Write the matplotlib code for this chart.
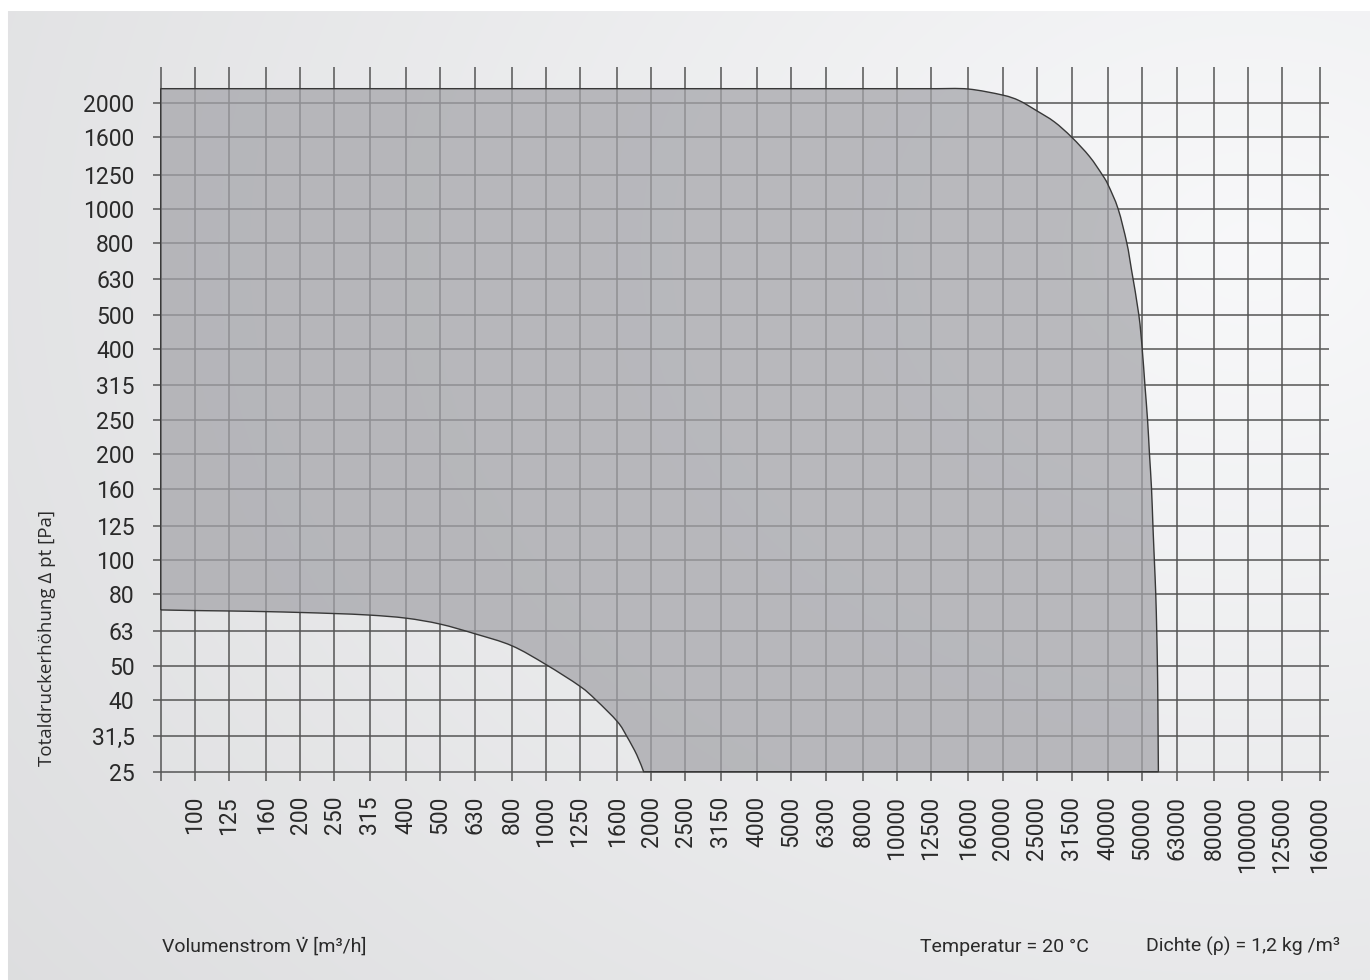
import numpy as np
import matplotlib
matplotlib.use("Agg")
import matplotlib.pyplot as plt
from matplotlib.path import Path
from matplotlib.patches import PathPatch
from matplotlib.ticker import NullLocator

# R10 grid values for flow rate [m3/h] and total pressure [Pa]
flow_grid = [80, 100, 125, 160, 200, 250, 315, 400, 500, 630, 800, 1000, 1250,
             1600, 2000, 2500, 3150, 4000, 5000, 6300, 8000, 10000, 12500, 16000,
             20000, 25000, 31500, 40000, 50000, 63000, 80000, 100000, 125000, 160000]
flow_labels = [""] + [str(v) for v in flow_grid[1:]]
pressure_grid = [25, 31.5, 40, 50, 63, 80, 100, 125, 160, 200, 250, 315, 400,
                 500, 630, 800, 1000, 1250, 1600, 2000]
pressure_labels = [str(v).replace(".", ",") for v in pressure_grid]

# operating range, upper-right limit (top of the flank down to the 25 Pa line)
upper_flow = [13000, 16000, 20000, 22300, 25000, 28100, 31500, 35400, 38500,
              40000, 42700, 45200, 46600, 48900, 50000, 50900, 51800, 52450,
              53150, 53650, 54150, 54650, 55000, 55250, 55400, 55500, 55600]
upper_dp = [2200, 2195, 2110, 2035, 1905, 1770, 1600, 1410, 1250,
            1170, 1000, 800, 672, 500, 400, 315, 250, 200,
            160, 125, 100, 80, 63, 50, 40, 31.5, 25]
# lower-left limit (from the 25 Pa line back to the left edge)
lower_flow = [1900, 1817, 1702, 1600, 1390, 1250, 1000, 800, 630, 500, 400, 315,
              250, 200, 160, 125, 100, 80]
lower_dp = [25, 27.9, 31.5, 34.7, 40, 43.8, 50.5, 57.1, 61.7, 65.8, 68.4, 69.8,
            70.5, 71.0, 71.4, 71.7, 71.9, 72.2]
top_dp = 2200
left_flow = 80


def smooth_segments(xs, ys):
    """Catmull-Rom curve through the points, as cubic Bezier pieces in log space."""
    lx, ly = np.log10(xs), np.log10(ys)
    n = len(lx)
    verts, codes = [], []
    for i in range(n - 1):
        i0, i3 = max(i - 1, 0), min(i + 2, n - 1)
        c1 = (lx[i] + (lx[i + 1] - lx[i0]) / 6, ly[i] + (ly[i + 1] - ly[i0]) / 6)
        c2 = (lx[i + 1] - (lx[i3] - lx[i]) / 6, ly[i + 1] - (ly[i3] - ly[i]) / 6)
        for px, py in (c1, c2, (lx[i + 1], ly[i + 1])):
            verts.append((10 ** px, 10 ** py))
        codes += [Path.CURVE4] * 3
    return verts, codes


W, H = 1372, 980
fig = plt.figure(figsize=(W / 100, H / 100), dpi=100, facecolor="white")

# soft grey backdrop, lighter towards the upper right
bg = fig.add_axes([0, 0, 1, 1], zorder=-10)
yy, xx = np.mgrid[0:H, 0:W]
r = np.sqrt(((xx - 1250) / 1.3) ** 2 + (yy - 250) ** 2) / 1300.0
r = np.clip(r, 0, 1)
shade = 0.975 - 0.11 * r
img = np.dstack([shade - 0.004, shade - 0.002, shade + 0.004])
img = np.clip(img, 0, 1)
img[:12, :, :] = 1.0
img[:, :8, :] = 1.0
img[:, 1370:, :] = 1.0
bg.imshow(img, extent=[0, W, H, 0], aspect="auto", interpolation="bilinear")
bg.set_xlim(0, W)
bg.set_ylim(H, 0)
bg.axis("off")

left, right, top, bottom = 153.3, 1329.0, 66.7, 780.7
ax = fig.add_axes([left / W, 1 - bottom / H, (right - left) / W, (bottom - top) / H])
ax.patch.set_alpha(0)
ax.set_xscale("log")
ax.set_yscale("log")
ax.set_xlim(76.2, 170250)
ax.set_ylim(23.57, 2541)

ax.set_xticks(flow_grid)
ax.set_xticklabels(flow_labels, rotation=90)
ax.set_yticks(pressure_grid)
ax.set_yticklabels(pressure_labels)
ax.xaxis.set_minor_locator(NullLocator())
ax.yaxis.set_minor_locator(NullLocator())
ax.tick_params(length=0, labelsize=16.5, colors="#2a2a2a")
ax.tick_params(axis="x", pad=11)
ax.tick_params(axis="y", pad=13.5)
for lab in ax.get_xticklabels() + ax.get_yticklabels():
    lab.set_family(["Roboto", "DejaVu Sans"])

ax.grid(True, color="#555555", lw=1.1)
ax.set_axisbelow(True)
for s in ax.spines.values():
    s.set_visible(False)

# outline: left edge, flat top, smooth right flank, 25 Pa bottom, smooth lower curve
verts = [(left_flow, lower_dp[-1]), (left_flow, top_dp), (upper_flow[0], top_dp)]
codes = [Path.MOVETO, Path.LINETO, Path.LINETO]
v, c = smooth_segments(upper_flow, upper_dp)
verts += v
codes += c
verts.append((lower_flow[0], lower_dp[0]))
codes.append(Path.LINETO)
v, c = smooth_segments(lower_flow, lower_dp)
verts += v
codes += c
outline = Path(verts, codes)

ax.add_patch(PathPatch(outline, facecolor="#a4a4a9", alpha=0.73, edgecolor="none", zorder=3))
ax.add_patch(PathPatch(outline, facecolor="none", edgecolor="#383838", lw=1.0, zorder=4))

fig.text(47 / W, 1 - 638 / H, "Totaldruckerhöhung Δ pt [Pa]", rotation=90,
         ha="center", va="center", fontsize=13.5, color="#2a2a2a",
         family=["Open Sans", "DejaVu Sans"])

txt_font = ["Roboto", "DejaVu Sans"]
fig.text(162 / W, 1 - 952 / H, "Volumenstrom V\u0307 [m³/h]", ha="left",
         va="baseline", fontsize=14, color="#2a2a2a", family=txt_font)
fig.text(920 / W, 1 - 952 / H, "Temperatur = 20 °C", ha="left",
         va="baseline", fontsize=14, color="#2a2a2a", family=txt_font)
fig.text(1340 / W, 1 - 952 / H, "Dichte (ρ) = 1,2 kg /m³", ha="right",
         va="baseline", fontsize=14, color="#2a2a2a", family=txt_font)

fig.savefig("out.png", dpi=100, facecolor="white")
